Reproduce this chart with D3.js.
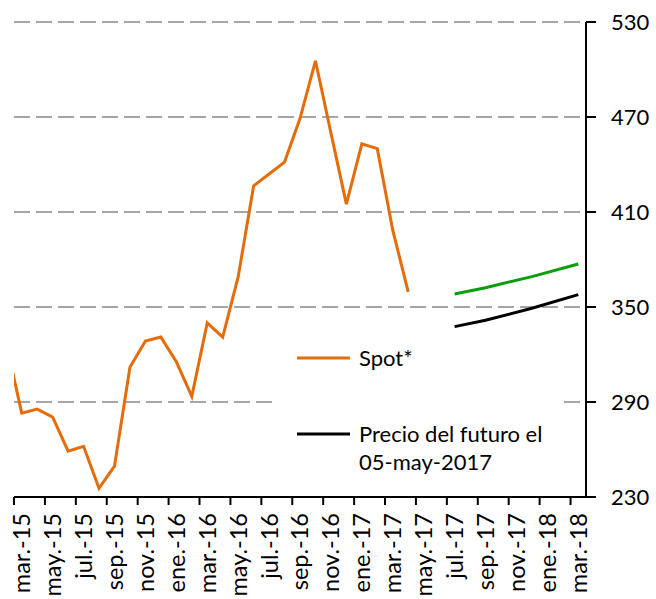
<!DOCTYPE html>
<html><head><meta charset="utf-8">
<script src="https://cdn.jsdelivr.net/npm/d3@7"></script>
<style>
body{margin:0;background:#fff}
svg{display:block}
text{font-family:Lato,"Open Sans",sans-serif;fill:#000}
</style>
</head><body><svg id="c" width="656" height="599"></svg>
<script>
// ---- data ----
const months = ["feb.-15","mar.-15","abr.-15","may.-15","jun.-15","jul.-15","ago.-15","sep.-15","oct.-15","nov.-15","dic.-15",
  "ene.-16","feb.-16","mar.-16","abr.-16","may.-16","jun.-16","jul.-16","ago.-16","sep.-16","oct.-16","nov.-16","dic.-16",
  "ene.-17","feb.-17","mar.-17","abr.-17","may.-17","jun.-17","jul.-17","ago.-17","sep.-17","oct.-17","nov.-17","dic.-17",
  "ene.-18","feb.-18","mar.-18"];
const tickLabels = ["mar.-15","may.-15","jul.-15","sep.-15","nov.-15","ene.-16","mar.-16","may.-16","jul.-16","sep.-16",
  "nov.-16","ene.-17","mar.-17","may.-17","jul.-17","sep.-17","nov.-17","ene.-18","mar.-18"];
const yTicks = [230,290,350,410,470,530];
const gridValues = [290,350,410,470,530];
const spotMonths = ["feb.-15","mar.-15","abr.-15","may.-15","jun.-15","jul.-15","ago.-15","sep.-15","oct.-15","nov.-15","dic.-15",
  "ene.-16","feb.-16","mar.-16","abr.-16","may.-16","jun.-16","jul.-16","ago.-16","sep.-16","oct.-16","nov.-16","dic.-16",
  "ene.-17","feb.-17","mar.-17","abr.-17"];
const spotValues = [327,283,285.5,280.5,259,262,235.5,249.5,312,328.5,331,
  315.5,293.5,340,331,369,426.5,434,441.5,469,505.5,460,415,
  453,450,398.5,359.5];
const futMonths = ["jul.-17","sep.-17","dic.-17","mar.-18"];
const futureBlack = [337.6,341.6,349.2,357.8];
const futureGreen = [358.2,362.2,369.2,377.2];
const legendLabels = ["Spot*","Precio del futuro el","05-may-2017"];

// ---- layout ----
const svg = d3.select("#c");
const plot = {left:14,right:586,top:22,bottom:497};
const nVisible = 37;
const step = (plot.right-plot.left)/nVisible;
const x = d3.scaleBand().domain(months).range([plot.left-step, plot.right]).padding(0);
const cx = m => x(m) + x.bandwidth()/2;
const y = d3.scaleLinear().domain([230,530]).range([plot.bottom, plot.top]);
const FS = 22;

svg.append("defs").append("clipPath").attr("id","clip")
  .append("rect").attr("x",plot.left).attr("y",0).attr("width",plot.right-plot.left).attr("height",599);

// gridlines
svg.append("g").selectAll("line").data(gridValues).join("line")
  .attr("x1",plot.left).attr("x2",plot.right)
  .attr("y1",d=>y(d)).attr("y2",d=>y(d))
  .attr("stroke","#a6a6a6").attr("stroke-width",2).attr("stroke-dasharray","16,6");

// legend background
svg.append("rect").attr("x",272).attr("y",334).attr("width",290).attr("height",150).attr("fill","#fff");

// series
const line = d3.line().x(d=>cx(d[0])).y(d=>y(d[1]));
const g = svg.append("g").attr("clip-path","url(#clip)");
g.append("path").datum(d3.zip(spotMonths,spotValues)).attr("d",line)
  .attr("fill","none").attr("stroke","#e46c0a").attr("stroke-width",3).attr("stroke-linejoin","miter");
g.append("path").datum(d3.zip(futMonths,futureGreen)).attr("d",line)
  .attr("fill","none").attr("stroke","#0a9e0a").attr("stroke-width",3);
g.append("path").datum(d3.zip(futMonths,futureBlack)).attr("d",line)
  .attr("fill","none").attr("stroke","#000").attr("stroke-width",3);

// y axis (right)
svg.append("line").attr("x1",plot.right).attr("x2",plot.right).attr("y1",y(530)).attr("y2",y(230))
  .attr("stroke","#000").attr("stroke-width",2);
const yt = svg.append("g").selectAll("g").data(yTicks).join("g").attr("transform",d=>`translate(${plot.right},${y(d)})`);
yt.append("line").attr("x1",0).attr("x2",10).attr("stroke","#000").attr("stroke-width",2);
yt.append("text").attr("x",25).attr("dy","0.36em").attr("font-size",FS).text(d=>d);

// x axis
svg.append("line").attr("x1",plot.left).attr("x2",plot.right+10).attr("y1",plot.bottom).attr("y2",plot.bottom)
  .attr("stroke","#000").attr("stroke-width",2);
svg.append("g").selectAll("line").data(tickLabels).join("line")
  .attr("x1",d=>x(d)).attr("x2",d=>x(d)).attr("y1",plot.bottom).attr("y2",plot.bottom+8)
  .attr("stroke","#000").attr("stroke-width",2);
svg.append("g").selectAll("text").data(tickLabels).join("text")
  .attr("transform",d=>`translate(${cx(d)},${plot.bottom+16}) rotate(-90)`)
  .attr("text-anchor","end").attr("dy","0.36em").attr("font-size",23.5).text(d=>d);

// legend
const leg = svg.append("g");
leg.append("line").attr("x1",297).attr("x2",350).attr("y1",358).attr("y2",358).attr("stroke","#e46c0a").attr("stroke-width",3);
leg.append("text").attr("x",359).attr("y",358).attr("dy","0.36em").attr("font-size",FS).text(legendLabels[0]);
leg.append("line").attr("x1",297).attr("x2",350).attr("y1",434).attr("y2",434).attr("stroke","#000").attr("stroke-width",3);
leg.append("text").attr("x",359).attr("y",434).attr("dy","0.36em").attr("font-size",FS).text(legendLabels[1]);
leg.append("text").attr("x",359).attr("y",462).attr("dy","0.36em").attr("font-size",FS).text(legendLabels[2]);
</script>
</body></html>
